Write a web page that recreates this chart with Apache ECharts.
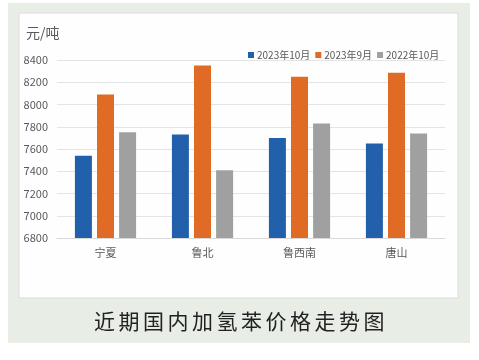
<!DOCTYPE html>
<html><head><meta charset="utf-8">
<script src="https://cdn.jsdelivr.net/npm/echarts@6/dist/echarts.min.js"></script>
<style>html,body{margin:0;padding:0;background:#fff}#w{position:relative;width:479px;height:360px}#c{width:479px;height:360px}
#t{position:absolute;left:0;width:479px;top:305px;text-align:center;font:21px "Noto Sans CJK SC",sans-serif;color:#222;letter-spacing:3.5px;padding-left:3px;box-sizing:border-box}</style>
</head><body><div id="w"><div id="c"></div><div id="t">近期国内加氢苯价格走势图</div></div>
<script>
const categories = ['宁夏', '鲁北', '鲁西南', '唐山'];
const seriesNames = ['2023年10月', '2023年9月', '2022年10月'];
const oct2023 = [7540, 7730, 7700, 7650];
const sep2023 = [8090, 8350, 8250, 8285];
const oct2022 = [7750, 7410, 7830, 7740];
const colors = ['#2360AB', '#E06B25', '#A0A0A0'];
const font = '"Noto Sans CJK SC", sans-serif';
const chart = echarts.init(document.getElementById('c'));
chart.setOption({
  animation: false,
  graphic: [
    {type: 'rect', z: -10, shape: {x: 8, y: 3, width: 462, height: 340}, style: {fill: '#E8EEE6'}},
    {type: 'rect', z: -9, shape: {x: 19, y: 13, width: 439, height: 285}, style: {fill: '#FEFEFE', stroke: '#DCDCDC', lineWidth: 1}},
    {type: 'text', left: 26, top: 26, style: {text: '元/吨', fill: '#595959', font: '14px ' + font}}
  ],
  legend: {
    top: 45, left: 243, itemWidth: 6, itemHeight: 6, itemGap: 5,
    icon: 'rect',
    textStyle: {fontSize: 10, color: '#595959', fontFamily: font, padding: [0, 0, 0, -2]},
    data: seriesNames
  },
  grid: {left: 57, right: 34, top: 60, bottom: 122},
  xAxis: {
    type: 'category', data: categories,
    axisLine: {lineStyle: {color: '#D9D9D9'}}, axisTick: {show: false},
    axisLabel: {color: '#595959', fontSize: 11, fontFamily: font, margin: 9}
  },
  yAxis: {
    type: 'value', min: 6800, max: 8400, interval: 200,
    axisLine: {show: false}, axisTick: {show: false},
    splitLine: {lineStyle: {color: '#E4E4E4'}},
    axisLabel: {color: '#595959', fontSize: 11, fontFamily: font, margin: 9, formatter: v => String(v)}
  },
  series: [
    {name: seriesNames[0], type: 'bar', data: oct2023, barWidth: 17, barGap: '30%', itemStyle: {color: colors[0]}},
    {name: seriesNames[1], type: 'bar', data: sep2023, barWidth: 17, barGap: '30%', itemStyle: {color: colors[1]}},
    {name: seriesNames[2], type: 'bar', data: oct2022, barWidth: 17, barGap: '30%', itemStyle: {color: colors[2]}}
  ]
});
</script></body></html>
